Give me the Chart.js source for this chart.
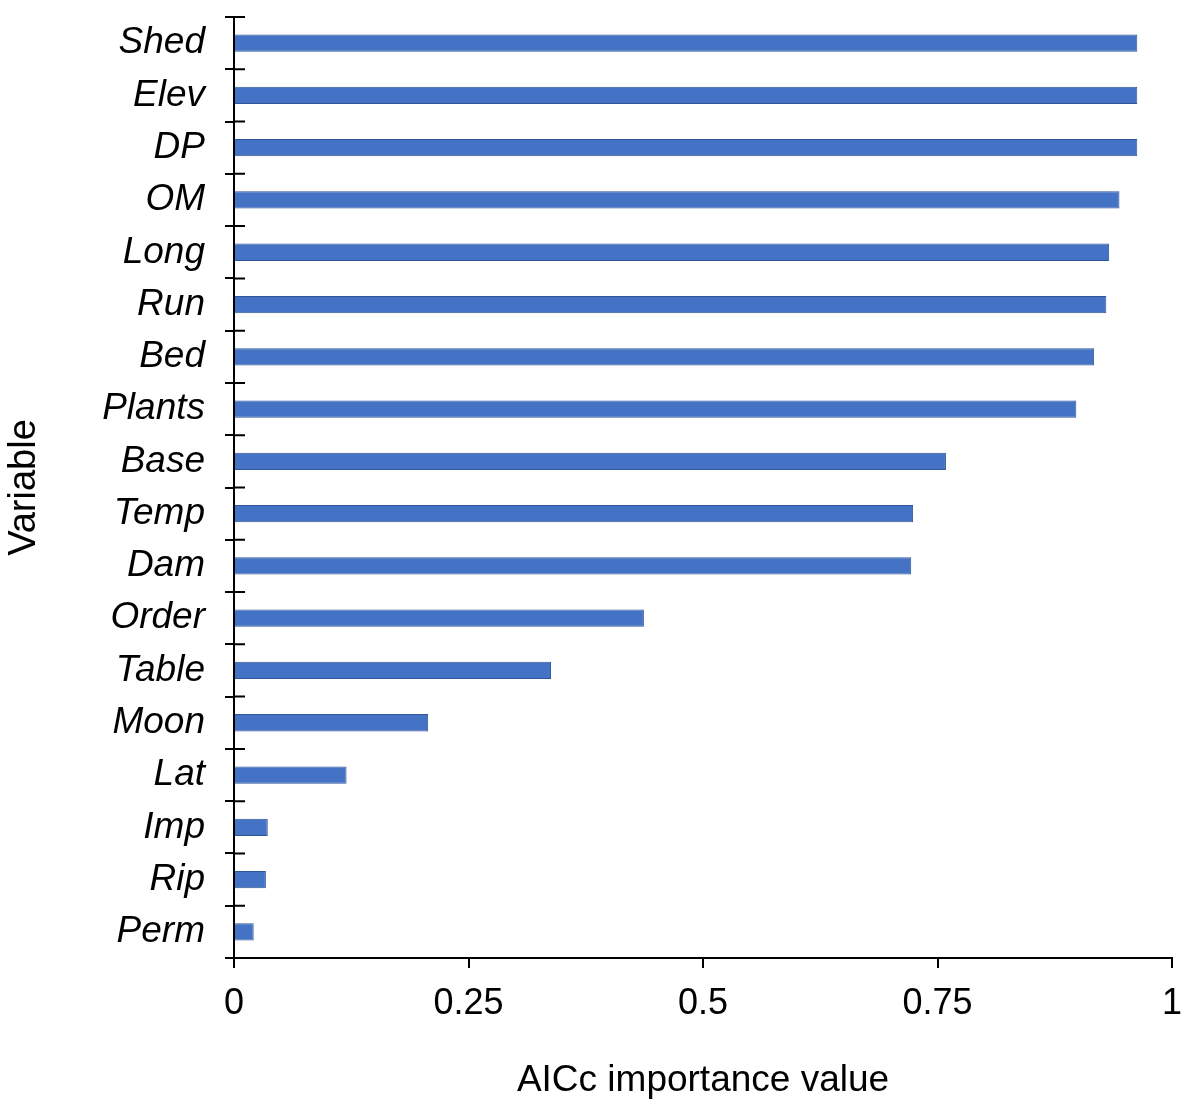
<!DOCTYPE html>
<html>
<head>
<meta charset="utf-8">
<script src="https://cdn.jsdelivr.net/npm/chart.js@4"></script>
<style>
  html, body { margin: 0; padding: 0; background: #fff; }
  #wrap { width: 1181px; height: 1105px; }
</style>
</head>
<body>
<div id="wrap"><canvas id="chart" width="1181" height="1105"></canvas></div>
<script>
// variables, top to bottom
const variables = ['Shed', 'Elev', 'DP', 'OM', 'Long', 'Run', 'Bed', 'Plants', 'Base',
  'Temp', 'Dam', 'Order', 'Table', 'Moon', 'Lat', 'Imp', 'Rip', 'Perm'];
// AICc importance values
const importance = [0.963, 0.963, 0.963, 0.944, 0.933, 0.930, 0.917, 0.898, 0.759,
  0.724, 0.722, 0.437, 0.338, 0.207, 0.120, 0.036, 0.034, 0.021];
const xTicks = [0, 0.25, 0.5, 0.75, 1];

// tick marks on the y axis cross the axis line, so draw the inner half here
const innerTicks = {
  id: 'innerTicks',
  afterDraw(chart) {
    const y = chart.scales.y;
    const ctx = chart.ctx;
    ctx.save();
    ctx.strokeStyle = '#000';
    ctx.lineWidth = 2;
    ctx.beginPath();
    for (let i = 0; i <= variables.length; i++) {
      const py = y.getPixelForValue(i - 0.5);
      ctx.moveTo(y.right, py);
      ctx.lineTo(y.right + 11, py);
    }
    ctx.stroke();
    ctx.restore();
  }
};

new Chart(document.getElementById('chart'), {
  type: 'bar',
  data: {
    labels: variables,
    datasets: [{
      data: importance,
      backgroundColor: '#4472C4',
      borderColor: '#2F5597',
      borderWidth: 1,
      categoryPercentage: 1,
      barPercentage: 0.33
    }]
  },
  options: {
    indexAxis: 'y',
    responsive: false,
    animation: false,
    layout: { padding: { top: 17, right: 9, left: 0, bottom: 0 } },
    plugins: { legend: { display: false }, tooltip: { enabled: false } },
    scales: {
      x: {
        min: 0,
        max: 1,
        afterBuildTicks(scale) { scale.ticks = xTicks.map(v => ({ value: v })); },
        afterFit(scale) {
          scale.height = 147;
          scale.paddingLeft = 0;
          scale.paddingRight = 0;
        },
        border: { color: '#000', width: 2 },
        grid: { drawOnChartArea: false, color: '#000', lineWidth: 2, tickLength: 10 },
        ticks: {
          color: '#000',
          padding: 14,
          maxRotation: 0,
          callback: v => String(v),
          font: { family: 'Liberation Sans', size: 36 }
        },
        title: {
          display: true,
          text: 'AICc importance value',
          color: '#000',
          padding: { top: 0, bottom: 6 },
          font: { family: 'Liberation Sans', size: 37, lineHeight: 1 }
        }
      },
      y: {
        afterFit(scale) {
          scale.width = 234;
          scale.paddingTop = 0;
          scale.paddingBottom = 0;
        },
        border: { color: '#000', width: 2 },
        grid: { drawOnChartArea: false, color: '#000', lineWidth: 2, tickLength: 9, offset: true },
        ticks: {
          color: '#000',
          padding: 20,
          autoSkip: false,
          font: { family: 'Liberation Sans', size: 37, style: 'italic' }
        },
        title: {
          display: true,
          text: 'Variable',
          color: '#000',
          padding: { top: 6, bottom: 0 },
          font: { family: 'Liberation Sans', size: 38, lineHeight: 1 }
        }
      }
    }
  },
  plugins: [innerTicks]
});
</script>
</body>
</html>
